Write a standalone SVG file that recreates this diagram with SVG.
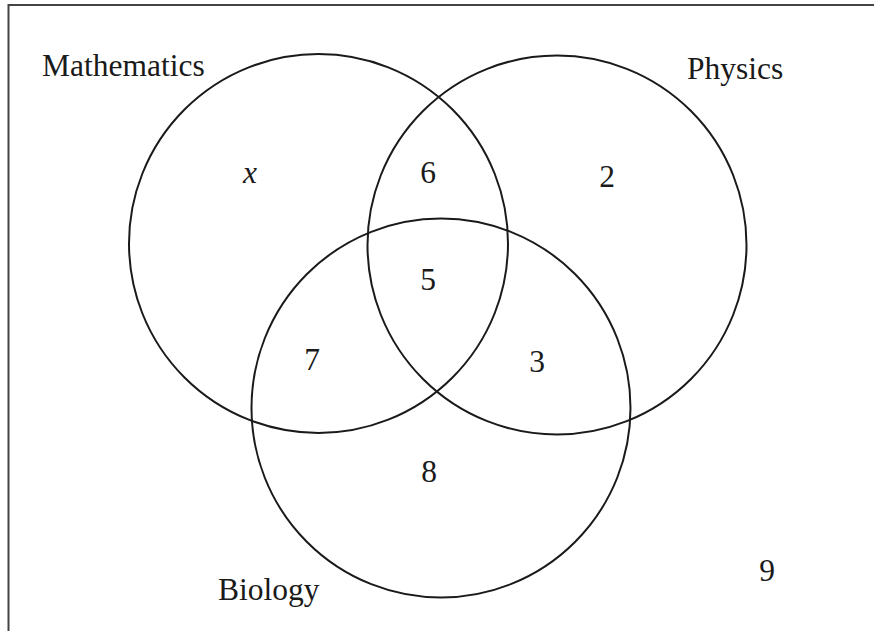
<svg xmlns="http://www.w3.org/2000/svg" width="874" height="631" viewBox="0 0 874 631">
<style>
.set{fill:none;stroke:#1a1a1a;stroke-width:2}
.frame{fill:none;stroke:#444;stroke-width:2}
text{font-family:"Liberation Serif","Times New Roman",serif;font-size:31.5px;fill:#1a1a1a}
.num{text-anchor:middle}
.it{font-style:italic}
</style>
<rect width="874" height="631" fill="#fff"/>
<path class="frame" d="M8.5 640 V5 H880"/>
<g id="mathematics">
<circle class="set" cx="318.5" cy="243.5" r="189.5"/>
<text x="42" y="76">Mathematics</text>
</g>
<g id="physics">
<circle class="set" cx="557" cy="245" r="189.5"/>
<text x="687" y="79">Physics</text>
</g>
<g id="biology">
<circle class="set" cx="441" cy="408" r="189.5"/>
<text x="218" y="600">Biology</text>
</g>
<g id="regions">
<text class="num it" x="250" y="183">x</text>
<text class="num" x="428" y="183">6</text>
<text class="num" x="607" y="187">2</text>
<text class="num" x="428" y="290">5</text>
<text class="num" x="312" y="370">7</text>
<text class="num" x="537" y="372">3</text>
<text class="num" x="429" y="482">8</text>
<text class="num" x="767" y="581">9</text>
</g>
</svg>
